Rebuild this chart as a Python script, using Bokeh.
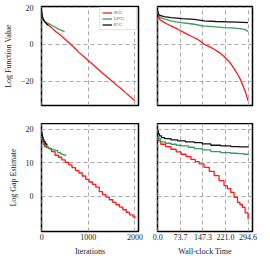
from bokeh.plotting import figure
from bokeh.layouts import gridplot
from bokeh.models import FixedTicker, Range1d, PrintfTickFormatter, Legend, LegendItem
from bokeh.embed import file_html
from bokeh.resources import INLINE

# ---------------- data ----------------
series_names = ["BCG", "LPCG", "PCG"]
series_colors = ["#ff1a1a", "#3b9a5e", "#111111"]

# Top-left: Log Function Value vs Iterations
fv_it_bcg_x = [0, 10, 30, 60, 100, 150, 200, 300, 400, 500, 600, 700, 800, 900, 1000,
               1100, 1200, 1300, 1400, 1500, 1600, 1700, 1800, 1900, 2000]
fv_it_bcg_y = [17.0, 15.0, 13.8, 12.6, 11.3, 10.2, 9.2, 7.0, 5.0, 2.7, 0.5, -1.9, -4.4, -6.6, -9.0,
               -11.0, -13.3, -15.6, -17.7, -19.9, -22.0, -24.0, -26.3, -28.5, -30.7]
fv_it_lpcg_x = [0, 20, 50, 100, 150, 200, 250, 300, 350, 400, 450, 490]
fv_it_lpcg_y = [15.5, 13.5, 12.6, 11.8, 11.2, 10.5, 9.8, 9.1, 8.4, 7.8, 7.3, 6.9]
fv_it_pcg_x = [0, 10, 30, 60, 100, 140]
fv_it_pcg_y = [18.0, 15.5, 13.8, 12.5, 11.2, 10.3]

# Top-right: Log Function Value vs Wall-clock Time
fv_t_bcg_x = [0, 2, 5.5, 18, 32, 48, 65, 80, 97, 113, 130, 140, 151, 168, 184, 200, 216,
              227, 238, 249, 260, 268, 276, 285, 294.6]
fv_t_bcg_y = [17.5, 15.5, 13.6, 12.2, 10.9, 9.6, 8.2, 6.9, 5.4, 4.1, 2.7, 1.5, 0.0, -1.3, -2.7, -4.4, -6.6,
              -8.4, -10.5, -13.2, -16.3, -18.5, -21.8, -25.5, -30.8]
fv_t_lpcg_x = [0, 2, 8, 20, 43, 60, 76, 100, 119, 146, 180, 216, 240, 260, 280, 287, 294.6]
fv_t_lpcg_y = [17.0, 16.4, 14.5, 13.8, 12.7, 12.2, 11.8, 11.3, 10.9, 10.0, 9.6, 9.1, 8.9, 8.6, 8.2, 7.8, 6.9]
fv_t_pcg_x = [0, 2, 5.5, 20, 43, 80, 119, 151, 190, 227, 260, 294.6]
fv_t_pcg_y = [18.0, 16.5, 15.8, 15.1, 14.5, 14.0, 13.6, 12.7, 12.4, 12.2, 12.0, 11.8]

# Bottom-left: Log Gap Estimate vs Iterations
ge_it_bcg_x = [0, 5, 15, 30, 55, 90, 140, 210, 285, 360, 430, 505, 580, 650, 725, 800, 870,
               945, 1015, 1090, 1160, 1235, 1305, 1380, 1450, 1525, 1595, 1670, 1740, 1815,
               1885, 1960, 2000]
ge_it_bcg_y = [18.2, 17.2, 16.3, 15.5, 14.9, 14.6, 14.2, 13.3, 12.2, 11.6, 10.8, 10.1, 9.3, 8.5,
               7.6, 6.9, 6.0, 5.0, 4.2, 3.5, 2.7, 1.3, 0.4, -0.3, -1.1, -1.9, -2.6, -3.3, -4.1,
               -4.9, -5.6, -6.2, -6.7]
ge_it_lpcg_x = [0, 10, 25, 50, 75, 110, 150, 185, 230, 290, 340, 400, 450, 510]
ge_it_lpcg_y = [18.0, 17.0, 16.2, 15.6, 15.1, 14.7, 14.3, 14.0, 13.8, 13.6, 13.0, 12.6, 12.3, 12.0]
ge_it_pcg_x = [0, 5, 15, 30, 50, 80, 110]
ge_it_pcg_y = [19.2, 18.4, 17.6, 16.8, 16.2, 15.6, 15.1]

# Bottom-right: Log Gap Estimate vs Wall-clock Time
ge_t_bcg_x = [0, 3, 9.7, 25, 43, 60, 76, 92, 108, 122, 135, 151, 168, 184, 200, 216, 227,
              238, 249, 260, 268, 276, 285, 294.6]
ge_t_bcg_y = [17.8, 16.5, 15.5, 14.8, 14.0, 13.2, 12.5, 11.8, 11.0, 10.3, 9.6, 8.6, 7.4, 6.1,
              4.6, 3.1, 2.2, 1.1, -0.4, -1.9, -2.6, -3.4, -5.0, -6.9]
ge_t_lpcg_x = [0, 2, 9, 25, 43, 60, 76, 100, 119, 145, 173, 205, 238, 260, 281, 294.6]
ge_t_lpcg_y = [18.0, 17.2, 16.2, 15.8, 15.5, 15.2, 15.0, 14.6, 14.2, 13.8, 13.3, 13.0, 12.8,
               12.7, 12.5, 12.1]
ge_t_pcg_x = [0, 2, 5.5, 12, 22, 43, 65, 90, 119, 145, 173, 205, 238, 265, 294.6]
ge_t_pcg_y = [19.5, 18.6, 18.0, 17.5, 17.2, 16.8, 16.5, 16.2, 16.0, 15.6, 15.2, 15.0, 14.8,
              14.7, 14.5]

iter_ticks = [0, 1000, 2000]
time_ticks = [0, 73.66, 147.31, 220.97, 294.62]
fv_ticks = [-20, 0, 20]
ge_ticks = [0, 10, 20]

x_label_left = "Iterations"
x_label_right = "Wall-clock Time"
y_label_top = "Log Function Value"
y_label_bottom = "Log Gap Estimate"

# ---------------- styling ----------------
FONT = "Liberation Serif"

it_range = Range1d(-5, 2077)
t_range = Range1d(-1, 309)
fv_range = Range1d(-33.3, 20.55)
ge_range = Range1d(-10.6, 21.7)


def make_fig(xr, yr, fw, fh, mbl, mbr, mbt, mbb, xticks, yticks, show_x, show_y):
    p = figure(frame_width=fw, frame_height=fh, x_range=xr, y_range=yr,
               min_border_left=mbl, min_border_right=mbr, min_border_top=mbt,
               min_border_bottom=mbb, output_backend="svg", toolbar_location=None)
    p.outline_line_color = "black"
    p.outline_line_width = 1.5
    p.xaxis.ticker = FixedTicker(ticks=xticks)
    p.yaxis.ticker = FixedTicker(ticks=yticks)
    p.xgrid.ticker = FixedTicker(ticks=xticks)
    p.ygrid.ticker = FixedTicker(ticks=yticks)
    p.grid.grid_line_color = "#a8a8a8"
    p.grid.grid_line_dash = "4 3"
    p.grid.grid_line_width = 1
    for ax in p.xaxis + p.yaxis:
        ax.axis_line_color = None
        ax.major_tick_line_color = None
        ax.minor_tick_line_color = None
        ax.major_tick_out = 0
        ax.major_tick_in = 0
        ax.major_label_text_font = FONT
        ax.major_label_text_font_size = "8px"
        ax.major_label_text_color = "#222222"
        ax.axis_label_text_font = FONT
        ax.axis_label_text_font_size = "8px"
        ax.axis_label_text_font_style = "normal"
        ax.axis_label_text_color = "#222222"
    p.yaxis.major_label_standoff = 8
    p.yaxis.axis_label_standoff = 5
    p.xaxis.major_label_standoff = 2
    p.xaxis.axis_label_standoff = 4
    p.xaxis.visible = show_x
    p.yaxis.visible = show_y
    return p


p1 = make_fig(it_range, fv_range, 97, 99, 36, 10, 6, 18, iter_ticks, fv_ticks, False, True)
p1.yaxis.axis_label = y_label_top
p2 = make_fig(t_range, fv_range, 95, 99, 9, 5, 6, 18, time_ticks, fv_ticks, False, False)
p3 = make_fig(it_range, ge_range, 97, 108, 36, 10, 0, 0, iter_ticks, ge_ticks, True, True)
p3.yaxis.axis_label = y_label_bottom
p3.xaxis.axis_label = x_label_left
p4 = make_fig(t_range, ge_range, 95, 108, 9, 5, 0, 0, time_ticks, ge_ticks, True, False)
p4.xaxis.axis_label = x_label_right
p4.xaxis.formatter = PrintfTickFormatter(format="%.1f")

W = 1.3
r1 = p1.line(fv_it_bcg_x, fv_it_bcg_y, color=series_colors[0], line_width=W)
g1 = p1.line(fv_it_lpcg_x, fv_it_lpcg_y, color=series_colors[1], line_width=W)
b1 = p1.line(fv_it_pcg_x, fv_it_pcg_y, color=series_colors[2], line_width=W)

p2.line(fv_t_bcg_x, fv_t_bcg_y, color=series_colors[0], line_width=W)
p2.line(fv_t_lpcg_x, fv_t_lpcg_y, color=series_colors[1], line_width=W)
p2.line(fv_t_pcg_x, fv_t_pcg_y, color=series_colors[2], line_width=W)

p3.step(ge_it_bcg_x, ge_it_bcg_y, color=series_colors[0], line_width=W, mode="after")
p3.step(ge_it_lpcg_x, ge_it_lpcg_y, color=series_colors[1], line_width=W, mode="after")
p3.step(ge_it_pcg_x, ge_it_pcg_y, color=series_colors[2], line_width=W, mode="after")

p4.step(ge_t_bcg_x, ge_t_bcg_y, color=series_colors[0], line_width=W, mode="after")
p4.step(ge_t_lpcg_x, ge_t_lpcg_y, color=series_colors[1], line_width=W, mode="after")
p4.step(ge_t_pcg_x, ge_t_pcg_y, color=series_colors[2], line_width=W, mode="after")

legend = Legend(items=[LegendItem(label=series_names[0], renderers=[r1]),
                       LegendItem(label=series_names[1], renderers=[g1]),
                       LegendItem(label=series_names[2], renderers=[b1])],
                location="top_right")
legend.label_text_font = FONT
legend.label_text_font_size = "4px"
legend.label_height = 5
legend.glyph_height = 5
legend.glyph_width = 10
legend.label_standoff = 2
legend.spacing = 1
legend.padding = 2
legend.margin = 1
legend.border_line_color = "#cccccc"
legend.border_line_width = 1
legend.background_fill_alpha = 0.9
p1.add_layout(legend)

grid = gridplot([[p1, p2], [p3, p4]], toolbar_location=None)

open("out.html", "w").write(file_html(grid, INLINE))
